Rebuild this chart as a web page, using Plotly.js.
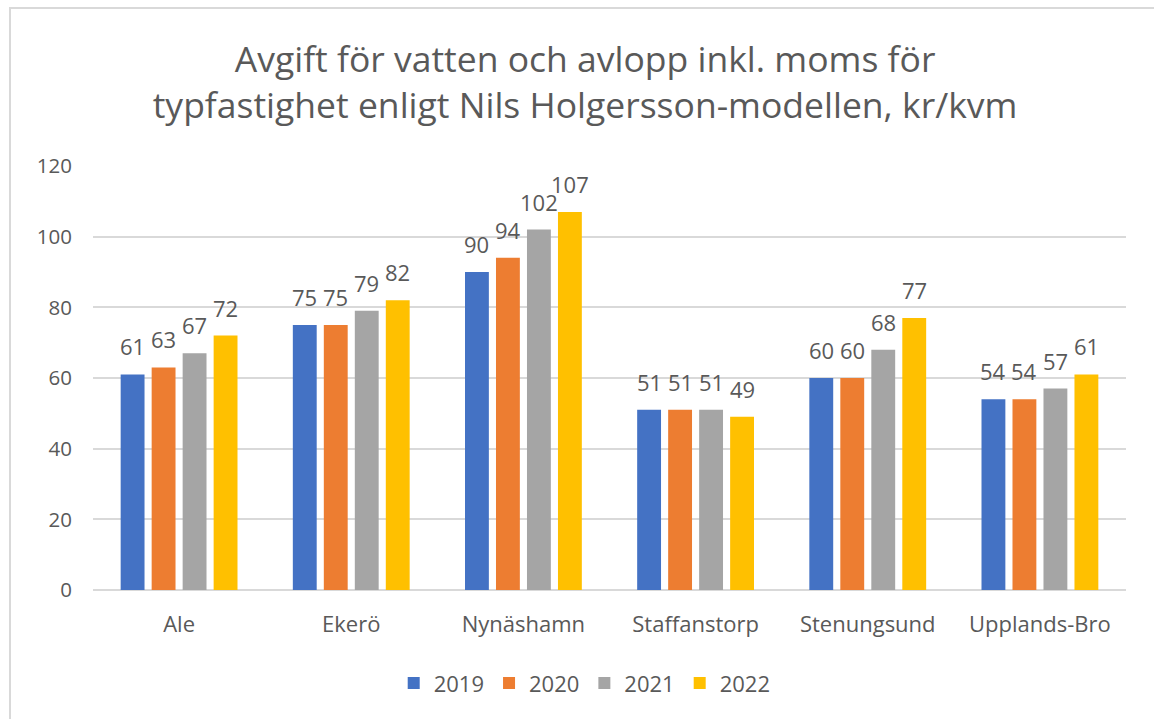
<!DOCTYPE html>
<html>
<head>
<meta charset="utf-8">
<script src="https://cdn.plot.ly/plotly-3.0.1.min.js"></script>
<style>html,body{margin:0;padding:0;background:#fff;}#chart{width:1154px;height:719px;}</style>
</head>
<body>
<div id="chart"></div>
<script>
const categories = ["Ale", "Ekerö", "Nynäshamn", "Staffanstorp", "Stenungsund", "Upplands-Bro"];
const seriesNames = ["2019", "2020", "2021", "2022"];
const v2019 = [61, 75, 90, 51, 60, 54];
const v2020 = [63, 75, 94, 51, 60, 54];
const v2021 = [67, 79, 102, 51, 68, 57];
const v2022 = [72, 82, 107, 49, 77, 61];
const seriesValues = [v2019, v2020, v2021, v2022];
const colors = ["#4472C4", "#ED7D31", "#A5A5A5", "#FFC000"];
const yTicks = [0, 20, 40, 60, 80, 100, 120];

const FONT = "'Open Sans', Lato, sans-serif";
const TXT = "#595959";
const bargap = 0.28;
const nS = seriesValues.length;
const slot = (1 - bargap) / nS;

const traces = seriesValues.map((vals, j) => ({
  type: "bar",
  name: seriesNames[j],
  x: categories,
  y: vals,
  marker: {color: colors[j]},
  hoverinfo: "x+y+name"
}));

const annotations = [];
seriesValues.forEach((vals, j) => {
  vals.forEach((v, i) => {
    annotations.push({
      x: i + (j - (nS - 1) / 2) * slot,
      y: v,
      xref: "x", yref: "y",
      text: String(v),
      showarrow: false,
      yanchor: "bottom",
      yshift: 11,
      font: {family: FONT, size: 22, color: TXT}
    });
  });
});

const layout = {
  width: 1154, height: 719,
  margin: {l: 93, r: 28, t: 166, b: 129},
  paper_bgcolor: "#fff", plot_bgcolor: "#fff",
  barmode: "group",
  bargap: bargap,
  bargroupgap: 0.23,
  title: {
    text: "Avgift för vatten och avlopp inkl. moms för<br>typfastighet enligt Nils Holgersson-modellen, kr/kvm",
    font: {family: FONT, size: 35.5, color: TXT},
    x: 0.507, xanchor: "center",
    y: 0.9, yanchor: "middle", yref: "container"
  },
  xaxis: {
    type: "category",
    tickfont: {family: FONT, size: 22, color: TXT},
    ticklabelstandoff: 19,
    showgrid: false, zeroline: false, showline: false,
    fixedrange: true
  },
  yaxis: {
    range: [0, 120],
    tickvals: yTicks,
    ticktext: yTicks.map(String),
    tickfont: {family: FONT, size: 20.5, color: TXT},
    ticklabelstandoff: 20,
    showgrid: true, gridcolor: "#D9D9D9", gridwidth: 1.6,
    zeroline: true, zerolinecolor: "#D9D9D9", zerolinewidth: 2,
    showline: false,
    fixedrange: true
  },
  legend: {
    orientation: "h",
    x: 0.476, xanchor: "center",
    y: -0.22, yanchor: "middle",
    font: {family: FONT, size: 22, color: TXT},
    itemwidth: 30,
    traceorder: "normal"
  },
  annotations: annotations,
  shapes: [{
    type: "rect", xref: "paper", yref: "paper",
    x0: (10 - 93) / 1033, x1: (1170 - 93) / 1033,
    y0: (590 - 730) / 424, y1: (590 - 8) / 424,
    line: {color: "#D9D9D9", width: 2},
    fillcolor: "rgba(0,0,0,0)",
    layer: "below"
  }],
  showlegend: true
};

Plotly.newPlot("chart", traces, layout, {displayModeBar: false, responsive: false});
</script>
</body>
</html>
